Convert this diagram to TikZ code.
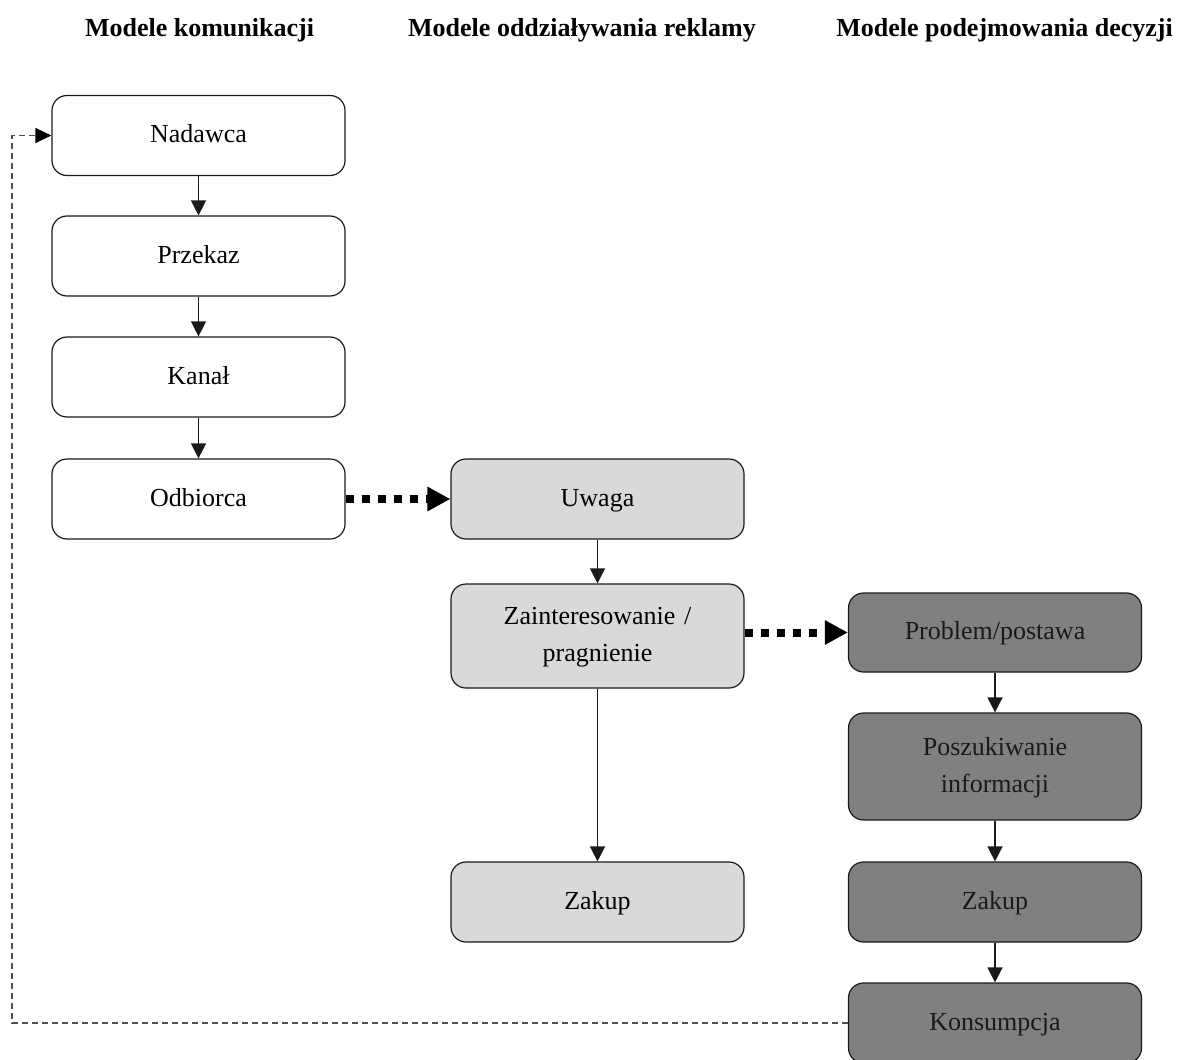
\documentclass[tikz,border=0pt]{standalone}
\usepackage{fontspec}
\setmainfont{Liberation Serif}
\usetikzlibrary{arrows.meta}

\definecolor{boxline}{HTML}{1A1A1A}
\definecolor{midfill}{HTML}{D9D9D9}
\definecolor{darkfill}{HTML}{808080}
\definecolor{fbline}{HTML}{505050}

\tikzset{
  box/.style={draw=boxline, line width=1.2pt, rounded corners=15pt,
    minimum height=80pt, text width=270pt, align=center, inner sep=0pt,
    font=\fontsize{26}{37}\selectfont,
    execute at begin node={\strut}, execute at end node={\strut}},
  comm/.style={box, fill=white, minimum width=293pt},
  adv/.style={box, fill=midfill, minimum width=293pt},
  dec/.style={box, fill=darkfill, minimum width=293pt, text=boxline},
  head/.style={font=\fontsize{26}{30}\selectfont\bfseries, anchor=base, inner sep=0pt},
  flow/.style={draw=boxline, line width=1.4pt, -{Triangle[length=15pt,width=15pt]}},
  link/.style={draw=black, line width=8pt, line cap=butt,
    dash pattern=on 8pt off 8pt, -{Triangle[length=23pt,width=23pt]}},
  feedback/.style={draw=fbline, line width=1.3pt, dash pattern=on 6pt off 4pt,
    -{Triangle[length=16pt,width=15pt,color=black]}}
}

\begin{document}
\begin{tikzpicture}[x=1pt, y=-1pt]
  \useasboundingbox (0,0) rectangle (1182,1059);

  % column titles
  \node[head] (h1) at (199.5,37) {Modele komunikacji};
  \node[head] (h2) at (582,37) {Modele oddziaływania reklamy};
  \node[head] (h3) at (1004.5,37) {Modele podejmowania decyzji};

  % communication model
  \node[comm] (nad) at (198.5,135.5) {Nadawca};
  \node[comm] (prz) at (198.5,256) {Przekaz};
  \node[comm] (kan) at (198.5,377) {Kanał};
  \node[comm] (odb) at (198.5,499) {Odbiorca};

  % advertising model
  \node[adv] (uwa) at (597.5,499) {Uwaga};
  \node[adv, minimum height=104pt] (zai) at (597.5,636) {Zainteresowanie /\\ pragnienie};
  \node[adv] (zak1) at (597.5,902) {Zakup};

  % decision model
  \node[dec, minimum height=79pt] (pro) at (995,632.5) {Problem/postawa};
  \node[dec, minimum height=107pt] (pos) at (995,766.5) {Poszukiwanie\\ informacji};
  \node[dec] (zak2) at (995,902) {Zakup};
  \node[dec] (kon) at (995,1023) {Konsumpcja};

  % vertical flows
  \draw[flow] (nad) -- (prz);
  \draw[flow] (prz) -- (kan);
  \draw[flow] (kan) -- (odb);
  \draw[flow] (uwa) -- (zai);
  \draw[flow] (zai) -- (zak1);
  \draw[flow] (pro) -- (pos);
  \draw[flow] (pos) -- (zak2);
  \draw[flow] (zak2) -- (kon);

  % links between models
  \draw[link] (odb.east) -- (uwa.west);
  \draw[link] (zai.east |- pro.west) -- (pro.west);

  % feedback loop back to the sender
  \coordinate (fb) at (12,0);
  \draw[feedback] (kon.west) -- (kon.west -| fb) -- (fb |- nad.west) -- (nad.west);
\end{tikzpicture}
\end{document}
